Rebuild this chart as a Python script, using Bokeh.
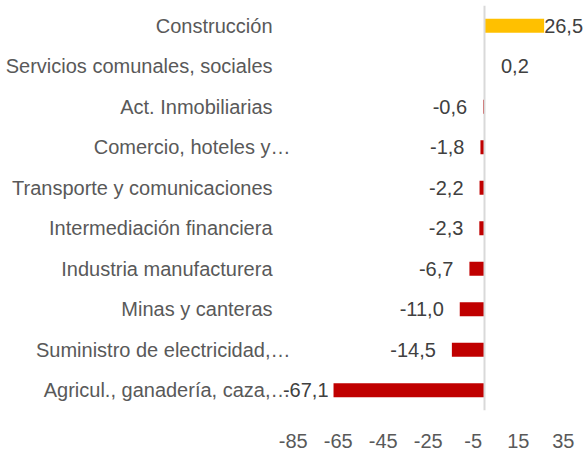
from bokeh.plotting import figure
from bokeh.models import ColumnDataSource, FactorRange, Range1d, FixedTicker, Span
from bokeh.core.properties import value
from bokeh.embed import file_html
from bokeh.resources import INLINE

categories = ["Construcción", "Servicios comunales, sociales", "Act. Inmobiliarias",
              "Comercio, hoteles y…", "Transporte y comunicaciones",
              "Intermediación financiera", "Industria manufacturera",
              "Minas y canteras", "Suministro de electricidad,…",
              "Agricul., ganadería, caza,…"]
values = [26.5, 0.2, -0.6, -1.8, -2.2, -2.3, -6.7, -11.0, -14.5, -67.1]
tick_values = [-85, -65, -45, -25, -5, 15, 35]
tick_labels = ["-85", "-65", "-45", "-25", "-5", "15", "35"]

FONT = "Liberation Sans"
FS = "20px"
W, H = 583, 451
TOP, PLOT_H = 5, 405
PX_PER_UNIT = 2.25
ZERO_PX = 484  # zero line in figure pixels
x_start = -ZERO_PX / PX_PER_UNIT
x_end = (W - ZERO_PX) / PX_PER_UNIT

colors = ["#FFC000" if v > 0 else "#C00000" for v in values]
labels = [f"{v:.1f}".replace(".", ",") for v in values]

# label placement (Excel-like: outside end, clamped near edges)
aligns, offs = [], []
for v in values:
    if v >= 0:
        end_px = ZERO_PX + v * PX_PER_UNIT
        aligns.append("left")
        offs.append(0 if end_px + 16 + 40 > W else 16)
    else:
        aligns.append("right")
        offs.append(-5 if v < -60 else -16)

cat_anchor = (272 - ZERO_PX) / PX_PER_UNIT
cat_x = [cat_anchor] * len(categories)
cat_off = [18 if c.endswith("…") else 0 for c in categories]

src = ColumnDataSource(dict(cat=categories, val=values, color=colors, lab=labels,
                            align=aligns, off=offs, cat_x=cat_x, cat_off=cat_off))

p = figure(width=W, height=H, output_backend="svg", toolbar_location=None,
           y_range=FactorRange(*reversed(categories), range_padding=0),
           x_range=Range1d(x_start, x_end),
           min_border_left=0, min_border_right=0, min_border_top=TOP,
           min_border_bottom=H - PLOT_H - TOP)
p.outline_line_color = None
p.background_fill_color = "white"
p.border_fill_color = "white"
p.grid.visible = False
p.yaxis.visible = False

p.xaxis.ticker = FixedTicker(ticks=tick_values)
p.xaxis.major_label_overrides = {t: l for t, l in zip(tick_values, tick_labels)}
p.xaxis.axis_line_color = None
p.xaxis.major_tick_line_color = None
p.xaxis.minor_tick_line_color = None
p.xaxis.major_label_standoff = 17
p.xaxis.major_label_text_font = FONT
p.xaxis.major_label_text_font_size = FS
p.xaxis.major_label_text_color = "#595959"

p.add_layout(Span(location=0, dimension="height", line_color="#D9D9D9", line_width=2))

p.hbar(y="cat", left=0, right="val", height=0.35, color="color", line_color=None, source=src)

p.text(x="val", y="cat", text="lab", text_align="align", x_offset="off",
       text_baseline="middle", text_font=value(FONT), text_font_size=FS,
       text_color="#404040", source=src)

p.text(x="cat_x", y="cat", text="cat", text_align="right", x_offset="cat_off",
       text_baseline="middle", text_font=value(FONT), text_font_size=FS,
       text_color="#595959", source=src)

open("out.html", "w").write(file_html(p, INLINE))
